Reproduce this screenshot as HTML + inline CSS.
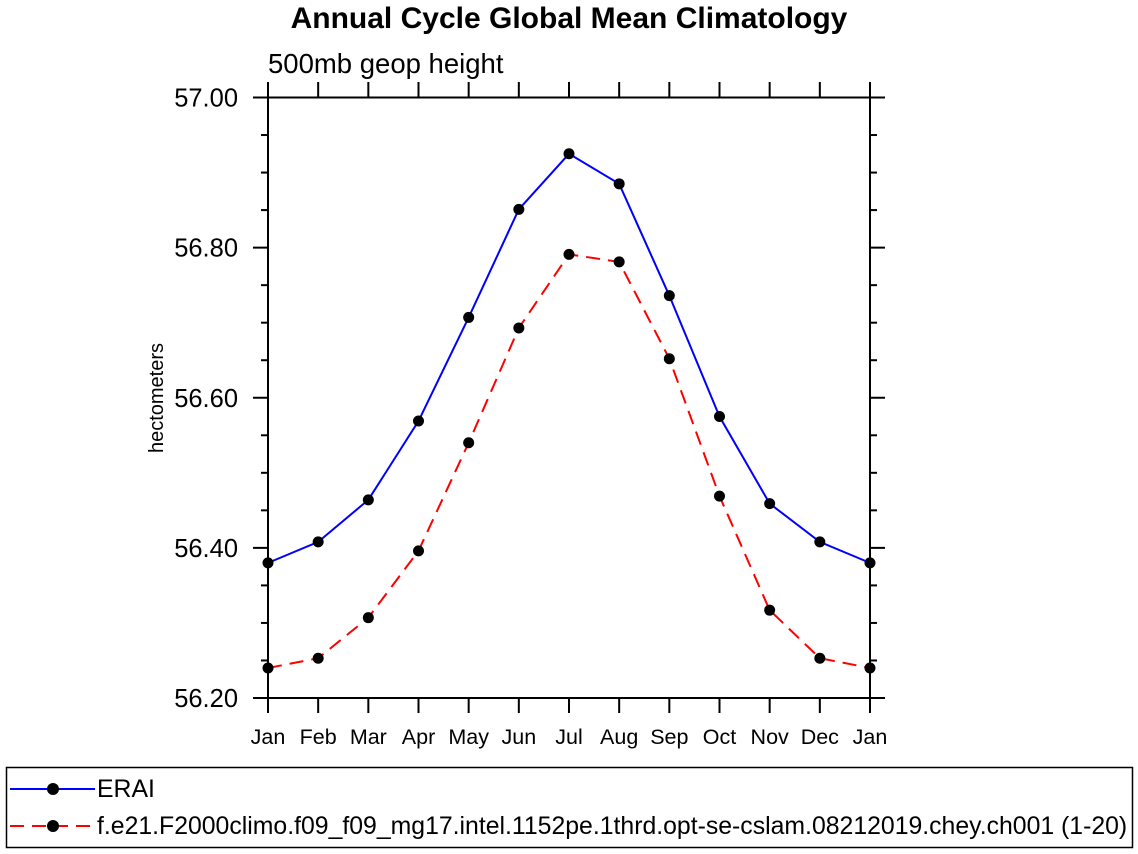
<!DOCTYPE html>
<html><head><meta charset="utf-8"><style>
body{margin:0;background:#fff;}
svg{display:block;font-family:"Liberation Sans",Arial,sans-serif;}
</style></head><body>
<svg id="chart" width="1138" height="854">
<text x="569" y="28" text-anchor="middle" font-size="30" font-weight="bold">Annual Cycle Global Mean Climatology</text>
<text x="268" y="73" font-size="27.5">500mb geop height</text>
<text transform="translate(163,398) rotate(-90)" text-anchor="middle" font-size="20">hectometers</text>
<rect x="268" y="97.5" width="602" height="600.5" fill="none" stroke="#000" stroke-width="2"/>
<g id="axes"></g>
<g id="series"></g>
<g>
<rect x="6.5" y="767.5" width="1126" height="80" fill="none" stroke="#000" stroke-width="1.5"/>
<g>
<line x1="10" y1="789" x2="95" y2="789" stroke="#0000ff" stroke-width="2"/>
<circle cx="53" cy="789" r="6" fill="#000"/>
<text x="97" y="797" font-size="24.8">ERAI</text>
</g>
<g>
<line x1="10" y1="826" x2="95" y2="826" stroke="#ff0000" stroke-width="2" stroke-dasharray="14,8"/>
<circle cx="53" cy="826" r="6" fill="#000"/>
<text x="97" y="834" font-size="24.8">f.e21.F2000climo.f09_f09_mg17.intel.1152pe.1thrd.opt-se-cslam.08212019.chey.ch001 (1-20)</text>
</g>
</g>
</svg>
<script>
const months=["Jan","Feb","Mar","Apr","May","Jun","Jul","Aug","Sep","Oct","Nov","Dec","Jan"];
const erai=[56.380,56.408,56.464,56.569,56.707,56.851,56.925,56.885,56.736,56.575,56.459,56.408,56.380];
const model=[56.240,56.253,56.307,56.396,56.540,56.693,56.791,56.781,56.652,56.469,56.317,56.253,56.240];
const yTicks=[56.2,56.4,56.6,56.8,57.0];
const yMin=56.2,yMax=57.0;
const NS="http://www.w3.org/2000/svg";
function xs(i){return 268+i*(602/(months.length-1));}
function ys(v){return 698-(v-yMin)/(yMax-yMin)*600.5;}
function mk(tag,attrs,parent){const e=document.createElementNS(NS,tag);for(const k in attrs)e.setAttribute(k,attrs[k]);parent.appendChild(e);return e;}
const ax=document.getElementById('axes');
for(let v=yMin;v<=yMax+1e-9;v+=0.05){
  const y=ys(v);const major=Math.abs((v-yMin)/0.2-Math.round((v-yMin)/0.2))<1e-6;const L=major?15:7;
  const t1=mk('line',{x1:268-L,y1:y,x2:268,y2:y,stroke:'#000','stroke-width':2},ax);
  
  
  const t2=mk('line',{x1:870,y1:y,x2:870+L,y2:y,stroke:'#000','stroke-width':2},ax);
  
  
}
yTicks.forEach(v=>{
  const t=mk('text',{x:238,y:ys(v)+9,'text-anchor':'end','font-size':25.5},ax);t.textContent=v.toFixed(2);
  
  
});
months.forEach((m,i)=>{
  const x=xs(i);
  const b=mk('line',{x1:x,y1:698,x2:x,y2:713,stroke:'#000','stroke-width':2},ax);
  
  
  const t=mk('line',{x1:x,y1:82,x2:x,y2:97,stroke:'#000','stroke-width':2},ax);
  
  
  const l=mk('text',{x:x,y:744,'text-anchor':'middle','font-size':21.5},ax);l.textContent=m;
  
  
});
const sg=document.getElementById('series');
function drawSeries(vals,color,dash,name){
  const pts=vals.map((v,i)=>xs(i)+','+ys(v)).join(' ');
  const pl=mk('polyline',{points:pts,fill:'none',stroke:color,'stroke-width':2,'stroke-dasharray':dash},sg);
  
  
  vals.forEach((v,i)=>{
    const c=mk('circle',{cx:xs(i),cy:ys(v),r:5.5,fill:'#000'},sg);
    
    
  });
}
drawSeries(erai,'#0000ff','none','erai');
drawSeries(model,'#ff0000','14,8','model');
</script>
</body></html>
